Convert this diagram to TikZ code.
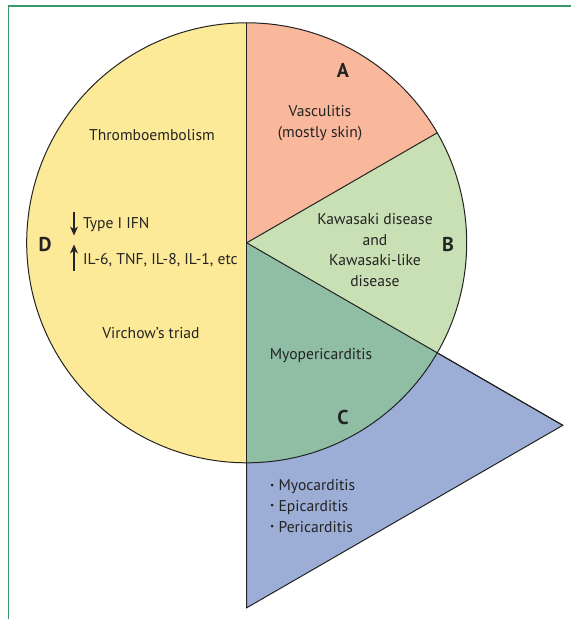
\documentclass[tikz,border=0pt]{standalone}
\usepackage{xcolor}
\usepackage{fontspec}
\setmainfont{PT Sans}
\usepackage{tikz}
\usetikzlibrary{arrows, arrows.meta, positioning}
\definecolor{framegreen}{RGB}{58,154,107}
\definecolor{sectA}{RGB}{249,183,156}
\definecolor{sectB}{RGB}{201,224,180}
\definecolor{sectC}{RGB}{143,190,165}
\definecolor{sectD}{RGB}{253,234,153}
\definecolor{wedge}{RGB}{156,173,214}
\definecolor{txt}{RGB}{35,35,35}
\newcommand{\dotitem}{\raisebox{0.35ex}{\scalebox{0.6}{\textbullet}}\ }

\begin{document}
\begin{tikzpicture}[x=1pt, y=1pt,
				>={Stealth[length=9pt, width=8pt]},
				auto,
				outline/.style={draw=txt, line width=1pt, line join=miter},
				lbl/.style={text=txt, font=\fontsize{15.6}{20.7}\selectfont, align=center, inner sep=0pt},
				letter/.style={text=txt, font=\fontsize{20}{22}\selectfont\bfseries, inner sep=0pt}]
				\useasboundingbox (-246.7,-376.2) rectangle (324.3,242.8);
				\coordinate (o) at (0,0);
				\coordinate (tip) at (-30:365);
				\coordinate (bot) at (0,-365);
				\draw[framegreen, line width=1.6pt] (-238.2,-376.2) -- (-238.2,236.8) -- (324.3,236.8);
				\filldraw[fill=wedge, outline] (o) -- (tip) -- (bot) -- cycle;
				\fill[sectD] (o) -- (90:220) arc (90:270:220) -- cycle;
				\fill[sectA] (o) -- (30:220) arc (30:90:220) -- cycle;
				\fill[sectB] (o) -- (-30:220) arc (-30:30:220) -- cycle;
				\fill[sectC] (o) -- (-90:220) arc (-90:-30:220) -- cycle;
				\draw[outline] (o) circle (220);
				\draw[outline] (90:220) -- (bot);
				\draw[outline] (o) -- (30:220);
				\draw[outline] (o) -- (tip);
				\node at (96.3,172.8) (a) [letter] {A};
				\node at (201.3,-1.2) (b) [letter] {B};
				\node at (96.3,-174.2) (c) [letter] {C};
				\node at (-201.7,-2.2) (d) [letter] {D};
				\node at (73.3,119.8) (vasc) [lbl] {Vasculitis\\(mostly skin)};
				\node at (128.3,-7.2) (kawa) [lbl] {Kawasaki disease\\and\\Kawasaki-like\\disease};
				\node at (-94.7,107.8) (thrombo) [lbl] {Thromboembolism};
				\node at (-95.7,-90.2) (virchow) [lbl] {Virchow’s triad};
				\node at (74.3,-113.2) (myoperi) [lbl] {Myopericarditis};
				\node at (-163.7,17.8) (ifn) [lbl, anchor=west] {Type I IFN};
				\node at (-163.7,-17.2) (il) [lbl, anchor=west] {IL-6, TNF, IL-8, IL-1, etc};
				\node at (23.3,-263.2) (forms) [lbl, anchor=west, align=left] {\dotitem Myocarditis\\\dotitem Epicarditis\\\dotitem Pericarditis};
				\coordinate (ifntop) at (-172.7,31.3);
				\coordinate (ifnend) at (-172.7,7.3);
				\coordinate (ilbot) at (-172.7,-27.7);
				\coordinate (ilend) at (-172.7,-1.7);
				\draw[->, txt, line width=1.4pt] (ifntop) -- (ifnend);
				\draw[->, txt, line width=1.4pt] (ilbot) -- (ilend);
			\end{tikzpicture}
\end{document}
